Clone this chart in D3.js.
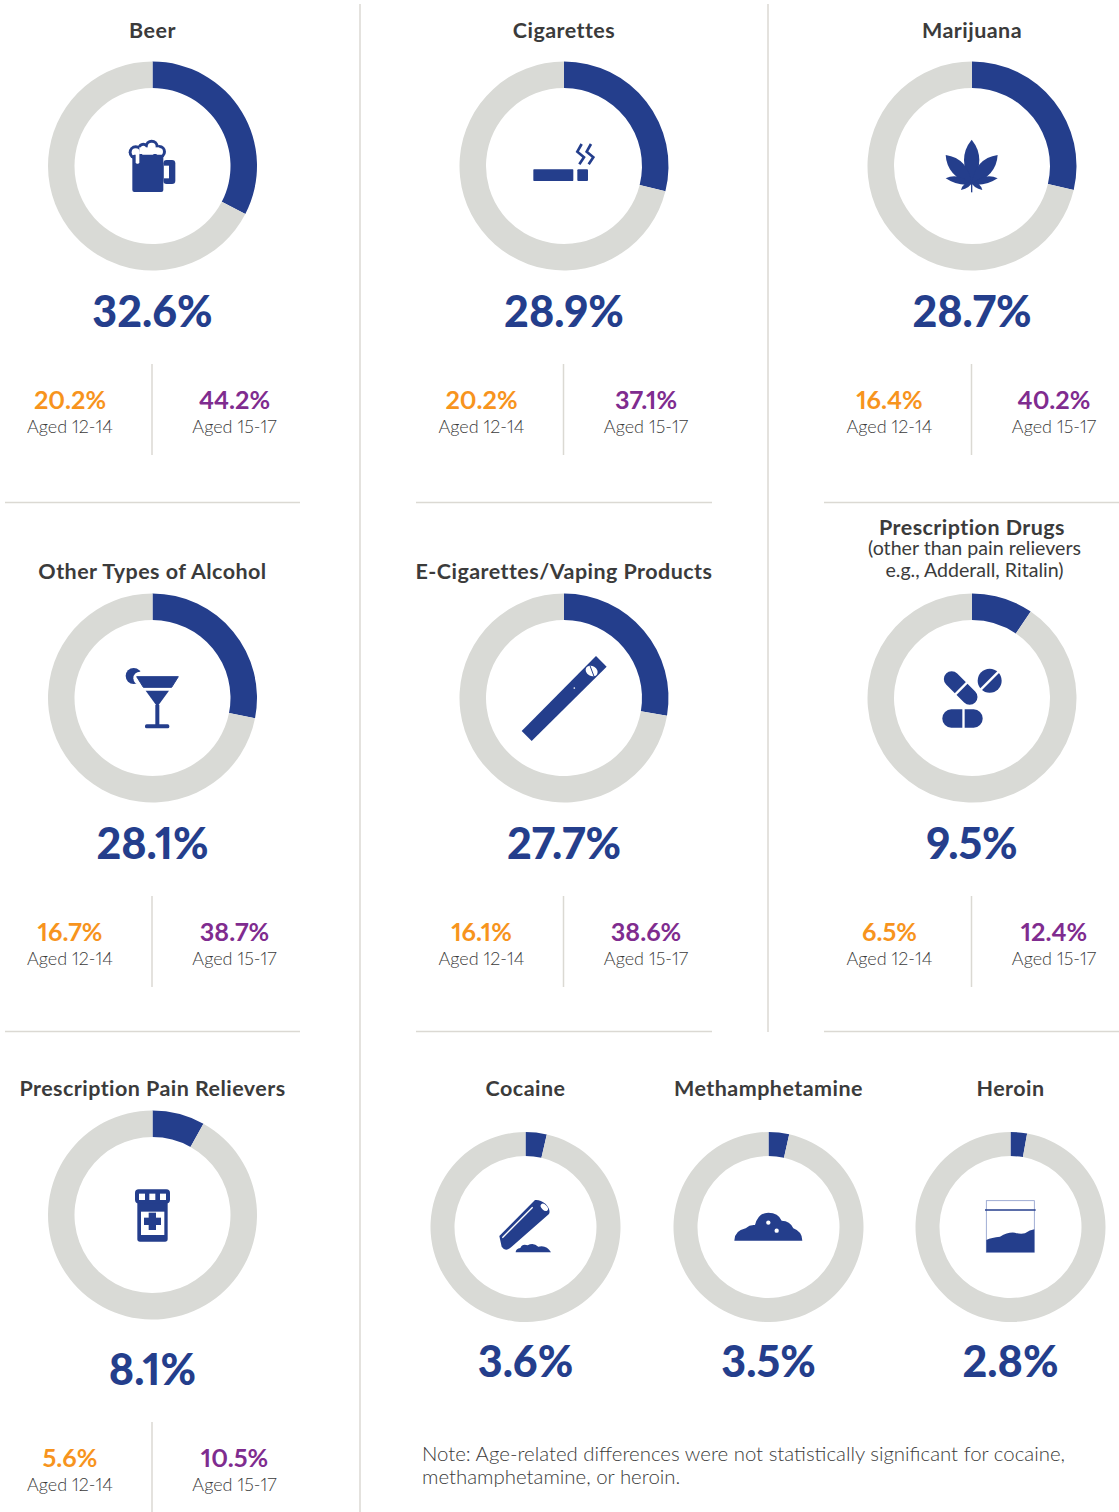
<!DOCTYPE html>
<html>
<head>
<meta charset="utf-8">
<script src="https://cdn.jsdelivr.net/npm/d3@7"></script>
<style>
  html, body { margin: 0; padding: 0; background: #fff; }
  svg { display: block; }
  text { font-family: Lato, "Open Sans", sans-serif; text-anchor: middle; font-variant-numeric: proportional-nums; font-feature-settings: "pnum" 1; }
  .title { font-size: 21.5px; font-weight: 700; fill: #3b3b3b; letter-spacing: 0.45px; }
  .sub { font-size: 19.6px; font-weight: 400; fill: #3b3b3b; }
  .big { font-size: 43px; font-weight: 900; fill: #243e8c; }
  .stat { font-size: 25.2px; font-weight: 700; }
  .aged { font-size: 18px; font-weight: 300; fill: #3b3b3b; }
  .note { font-size: 20.4px; font-weight: 300; fill: #3b3b3b; text-anchor: start; }
  .rule { stroke: #dbd9d3; stroke-width: 1.5; }
</style>
</head>
<body>
<div id="chart"></div>
<script>
// values
const drugNames = ["Beer", "Cigarettes", "Marijuana", "Other Types of Alcohol", "E-Cigarettes/Vaping Products",
    "Prescription Drugs", "Prescription Pain Relievers", "Cocaine", "Methamphetamine", "Heroin"];
const overallPct = [32.6, 28.9, 28.7, 28.1, 27.7, 9.5, 8.1, 3.6, 3.5, 2.8];
const aged1214 = [20.2, 20.2, 16.4, 16.7, 16.1, 6.5, 5.6, null, null, null];
const aged1517 = [44.2, 37.1, 40.2, 38.7, 38.6, 12.4, 10.5, null, null, null];
const noteLines = ["Note: Age-related differences were not statistically significant for cocaine,",
    "methamphetamine, or heroin."];
const rxSubLines = ["(other than pain relievers", "e.g., Adderall, Ritalin)"];

// where each panel sits: donut centre, radii, title/number/stat baselines
const panels = [
    { x: 152.5, y: 166, R: 104.5, r: 78, title: 37.5, big: 327, stat: 409, icon: beerIcon },
    { x: 564, y: 166, R: 104.5, r: 78, title: 37.5, big: 327, stat: 409, icon: cigaretteIcon },
    { x: 972, y: 166, R: 104.5, r: 78, title: 37.5, big: 327, stat: 409, icon: leafIcon },
    { x: 152.5, y: 698, R: 104.5, r: 78, title: 578.5, big: 859, stat: 941, icon: cocktailIcon },
    { x: 564, y: 698, R: 104.5, r: 78, title: 578.5, big: 859, stat: 941, icon: vapeIcon },
    { x: 972, y: 698, R: 104.5, r: 78, title: 534.5, big: 859, stat: 941, icon: pillsIcon },
    { x: 152.5, y: 1215, R: 104.5, r: 78, title: 1095.5, big: 1384.5, stat: 1467, icon: bottleIcon },
    { x: 525.5, y: 1227, R: 95, r: 71, title: 1095.5, big: 1377, icon: tubeIcon },
    { x: 768.5, y: 1227, R: 95, r: 71, title: 1095.5, big: 1377, icon: pileIcon },
    { x: 1010.5, y: 1227, R: 95, r: 71, title: 1095.5, big: 1377, icon: bagIcon }
];

const navy = "#243e8c", grey = "#d9dad6", orange = "#f7941d", purple = "#7f2c8f";

const svg = d3.select("#chart").append("svg")
    .attr("width", 1119)
    .attr("height", 1512);

// separators
const rules = [[360, 4, 360, 1512], [768, 4, 768, 1032],
    [5, 502.5, 300, 502.5], [416, 502.5, 712, 502.5], [824, 502.5, 1119, 502.5],
    [5, 1031.5, 300, 1031.5], [416, 1031.5, 712, 1031.5], [824, 1031.5, 1119, 1031.5]];
svg.selectAll("line.rule").data(rules).join("line")
    .attr("class", "rule")
    .attr("x1", d => d[0]).attr("y1", d => d[1])
    .attr("x2", d => d[2]).attr("y2", d => d[3]);

const pie = d3.pie().sort(null).value(d => d);

panels.forEach(function(p, i) {
    const g = svg.append("g");
    const arc = d3.arc().innerRadius(p.r).outerRadius(p.R);

    g.append("g")
        .attr("transform", "translate(" + p.x + "," + p.y + ")")
        .selectAll("path")
        .data(pie([overallPct[i], 100 - overallPct[i]]))
        .join("path")
        .attr("d", arc)
        .attr("fill", (d, k) => k === 0 ? navy : grey);

    g.append("text").attr("class", "title").attr("x", p.x).attr("y", p.title).text(drugNames[i]);

    g.append("text").attr("class", "big").attr("x", p.x).attr("y", p.big).text(overallPct[i] + "%");

    if (p.stat) {
        const top = p.stat - 45;
        g.append("line").attr("class", "rule")
            .attr("x1", p.x - 0.5).attr("x2", p.x - 0.5)
            .attr("y1", top).attr("y2", top + 91);
        g.append("text").attr("class", "stat").attr("x", p.x - 82.5).attr("y", p.stat)
            .attr("fill", orange).text(d3.format(".1f")(aged1214[i]) + "%");
        g.append("text").attr("class", "aged").attr("x", p.x - 82.5).attr("y", p.stat + 24).text("Aged 12-14");
        g.append("text").attr("class", "stat").attr("x", p.x + 82).attr("y", p.stat)
            .attr("fill", purple).text(d3.format(".1f")(aged1517[i]) + "%");
        g.append("text").attr("class", "aged").attr("x", p.x + 82).attr("y", p.stat + 24).text("Aged 15-17");
    }

    p.icon(g.append("g").attr("transform", "translate(" + p.x + "," + p.y + ")").attr("fill", navy));
});

// the sub lines under Prescription Drugs
svg.selectAll("text.sub").data(rxSubLines).join("text")
    .attr("class", "sub")
    .attr("x", 974.5)
    .attr("y", (d, i) => 555 + i * 22)
    .text(d => d);

svg.selectAll("text.note").data(noteLines).join("text")
    .attr("class", "note")
    .attr("x", 422)
    .attr("y", (d, i) => 1461 + i * 23)
    .text(d => d);

// icons, drawn at 3x in the space of a small crop around each donut centre
function crop(sel, dx, dy) {
    return sel.append("g").attr("transform", "translate(" + dx + "," + dy + ") scale(0.3333)");
}
function rect(g, x, y, w, h, rx, fill) {
    return g.append("rect").attr("x", x).attr("y", y).attr("width", w).attr("height", h)
        .attr("rx", rx || 0).attr("fill", fill || navy);
}
function circle(g, cx, cy, r, fill) {
    return g.append("circle").attr("cx", cx).attr("cy", cy).attr("r", r).attr("fill", fill || navy);
}
function strokeLine(g, d, w, color, cap) {
    return g.append("path").attr("d", d).attr("fill", "none").attr("stroke", color || navy)
        .attr("stroke-width", w).attr("stroke-linecap", cap || "butt");
}

function beerIcon(sel) {
    const g = crop(sel, -52.5, -46);
    const foam = [[107, 97, 21], [130, 85, 17], [155, 80, 21], [178, 95, 20]];
    foam.forEach(c => circle(g, c[0], c[1], c[2]));
    foam.forEach(c => circle(g, c[0], c[1], c[2] - 9, "#fff"));
    rect(g, 118, 82, 60, 20, 0, "#fff");
    rect(g, 190, 120, 36, 72, 10);
    rect(g, 192, 137, 15, 38, 0, "#fff");
    rect(g, 97, 104, 93, 112, 6);
    rect(g, 107, 95, 11, 36, 4, "#fff");
}

function cigaretteIcon(sel) {
    const g = crop(sel, -54, -46);
    rect(g, 70, 148, 120, 35, 2);
    rect(g, 202, 148, 32, 35, 3);
    strokeLine(g, "M215,72L202,95L222,112L208,133", 8);
    strokeLine(g, "M243,72L230,95L250,112L236,133", 8);
}

function leafIcon(sel) {
    const g = crop(sel, -47, -41);
    const blade = (bx, by, tx, ty, c1x, c1y, c2x, c2y) =>
        g.append("path").attr("d", "M" + bx + "," + by + "Q" + c1x + "," + c1y + " " + tx + "," + ty + "Q" + c2x + "," + c2y + " " + bx + "," + by);
    blade(140, 178, 140, 44, 94, 100, 186, 100);
    blade(140, 178, 62, 90, 66, 155, 130, 100);
    blade(140, 178, 218, 90, 214, 155, 150, 100);
    blade(140, 178, 62, 160, 100, 142, 100, 185);
    blade(140, 178, 218, 160, 180, 142, 180, 185);
    blade(140, 172, 108, 195, 115, 170, 135, 190);
    blade(140, 172, 172, 195, 165, 170, 145, 190);
    rect(g, 138, 170, 4, 32, 0);
}

function cocktailIcon(sel) {
    const g = crop(sel, -42.5, -43);
    circle(g, 71, 63, 24);
    circle(g, 90, 70, 20, "#fff");
    g.append("path").attr("d", "M80,65L205,65L185,97L100,97Z")
        .attr("stroke", navy).attr("stroke-width", 3).attr("stroke-linejoin", "round");
    g.append("path").attr("d", "M107,107L177,107L142,155Z");
    rect(g, 136, 150, 12, 62, 0);
    rect(g, 105, 208, 73, 12, 5);
}

function vapeIcon(sel) {
    const g = crop(sel, -54, -53);
    g.append("path").attr("d", "M258,33L290,65L65,288L35,258Z");
    g.append("ellipse").attr("cx", 245).attr("cy", 78).attr("rx", 19).attr("ry", 15)
        .attr("transform", "rotate(30 245 78)").attr("fill", "#fff");
    strokeLine(g, "M240,62L252,94", 3);
    circle(g, 193, 129, 2.5, "#fff");
}

function pillsIcon(sel) {
    const g = crop(sel, -42, -43);
    strokeLine(g, "M65,72L119,126", 47, navy, "round");
    strokeLine(g, "M70,124L114,80", 7, "#fff");
    circle(g, 179, 77, 36);
    strokeLine(g, "M152,104L206,50", 7, "#fff");
    rect(g, 37, 163, 121, 55, 27);
    rect(g, 97, 160, 7, 60, 0, "#fff");
}

function bottleIcon(sel) {
    const g = crop(sel, -32.5, -35);
    rect(g, 52, 60, 91, 125, 8);
    rect(g, 45, 28, 105, 42, 11);
    [57, 88, 120].forEach(x => rect(g, x, 41, 18, 19, 0, "#fff"));
    rect(g, 63, 95, 70, 70, 0, "#fff");
    rect(g, 72, 113, 51, 22, 0);
    rect(g, 86, 98, 22, 52, 0);
}

function tubeIcon(sel) {
    const g = crop(sel, -40.5, -37);
    g.append("path").attr("d", "M150,30Q165,28 182,42Q198,60 192,72L80,170Q62,188 50,170L43,138Z");
    g.append("ellipse").attr("cx", 178).attr("cy", 52).attr("rx", 13).attr("ry", 8)
        .attr("transform", "rotate(45 178 52)").attr("fill", "#fff");
    strokeLine(g, "M143,52L52,143", 4, "#fff");
    g.append("path").attr("d", "M92,187Q92,176 106,174Q112,160 128,166Q145,156 160,170Q185,164 198,187Z");
}

function pileIcon(sel) {
    const g = crop(sel, -43.5, -27);
    g.append("path").attr("d", "M28,122Q28,92 62,85Q75,73 90,75Q100,38 130,38Q160,38 170,62Q195,62 205,85Q232,95 232,122Z");
    circle(g, 130, 68, 6.5, "#fff");
    circle(g, 155, 92, 6.5, "#fff");
}

function bagIcon(sel) {
    const g = crop(sel, -35.5, -37);
    g.append("rect").attr("x", 34).attr("y", 32).attr("width", 144).attr("height", 155)
        .attr("fill", "#fff").attr("stroke", "#8d9ccb").attr("stroke-width", 2.5);
    strokeLine(g, "M30,60L182,60", 4);
    g.append("path").attr("d", "M34,150Q50,142 75,140Q100,125 120,128Q135,133 150,130Q165,120 178,118L178,187L34,187Z");
}
</script>
</body>
</html>
